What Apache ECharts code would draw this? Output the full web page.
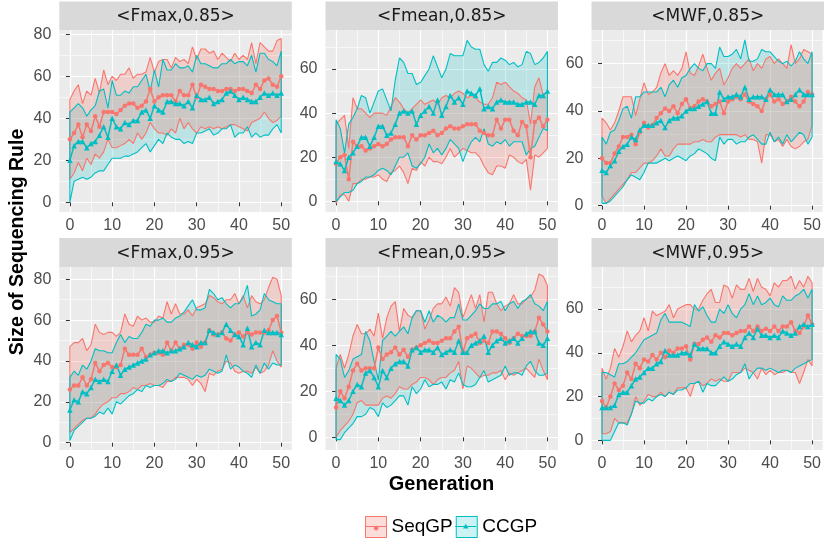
<!DOCTYPE html>
<html><head><meta charset="utf-8">
<script src="https://cdn.jsdelivr.net/npm/echarts@6/dist/echarts.min.js"></script>
<style>html,body{margin:0;padding:0;background:#fff}#c{width:824px;height:538px}</style>
</head><body><div id="c"></div>
<script>
// ---------- data ----------
const generations = [0,1,2,3,4,5,6,7,8,9,10,11,12,13,14,15,16,17,18,19,20,21,22,23,24,25,26,27,28,29,30,31,32,33,34,35,36,37,38,39,40,41,42,43,44,45,46,47,48,49,50];
const xTicks = [0,10,20,30,40,50];
const xMinorTicks = [5,15,25,35,45];
const yTicks = [0,20,40,60,80];
const yMinorTicks = [10,30,50,70];
const panelTitles = ['<Fmax,0.85>','<Fmean,0.85>','<MWF,0.85>','<Fmax,0.95>','<Fmean,0.95>','<MWF,0.95>'];
const seriesNames = ['SeqGP','CCGP'];

// <Fmax,0.85>
const p1_seq_mean = [30,33,37,31,37,34,41,36,43,43, 43,42,44,46,47,47,45,46,48,54, 48,50,51,51,51,48,53,51,51,56, 50,56,55,54,54,53,53,54,54,53, 54,54,53,52,56,54,58,59,56,55, 60];
const p1_seq_hi   = [49,53,56,47,53,51,59,52,63,56, 60,58,61,61,64,59,61,61,62,69, 62,67,68,68,64,69,67,68,66,74, 68,73,73,71,72,68,71,69,67,71, 68,70,68,76,66,76,74,72,72,77, 78];
const p1_seq_lo   = [11,14,19,15,21,18,23,21,24,30, 26,26,27,28,30,28,33,30,33,38, 35,33,33,32,35,33,40,35,38,35, 33,36,35,36,35,36,35,36,37,37, 36,35,34,38,39,40,43,40,38,39, 41];
const p1_cc_mean  = [20,27,29,29,26,28,29,32,36,31, 40,36,35,38,37,39,39,43,44,40, 46,44,43,48,48,47,47,46,48,45, 51,49,49,50,47,48,49,52,53,51, 49,50,49,48,48,50,52,51,52,51, 52];
const p1_cc_hi    = [43,45,47,45,41,44,46,53,54,45, 58,51,51,53,52,55,55,58,61,53, 63,55,68,63,63,66,64,64,65,62, 70,66,66,65,64,64,66,66,68,66, 67,67,65,70,62,71,71,68,67,65, 72];
const p1_cc_lo    = [0,10,11,12,11,12,14,15,15,18, 21,21,21,22,22,23,24,26,28,24, 27,30,28,33,31,30,30,28,29,28, 33,33,34,35,32,33,35,35,37,31, 33,33,36,31,33,31,32,32,35,37, 33];

// <Fmean,0.85>
const p2_seq_mean = [17,20,21,10,27,25,25,23,24,25, 26,25,26,28,29,29,29,25,30,28, 30,30,31,32,30,31,33,34,33,33, 34,35,35,35,32,31,30,30,37,33, 37,37,32,30,36,34,20,36,38,34, 37];
const p2_seq_hi   = [35,37,39,24,47,42,42,40,38,40, 40,40,39,43,47,45,42,40,42,44, 46,44,45,46,44,47,48,47,49,50, 49,47,48,47,45,44,44,47,54,53, 54,52,50,49,47,46,35,52,56,48, 50];
const p2_seq_lo   = [-1,3,3,0,8,8,10,10,11,11, 12,10,9,13,14,16,13,8,15,14, 18,16,20,18,18,17,20,24,20,22, 24,23,22,22,20,16,13,12,16,16, 15,21,20,18,17,19,5,21,20,22, 24];
const p2_cc_mean  = [18,17,14,20,22,25,29,29,25,29, 34,34,30,31,35,40,41,40,41,35, 39,41,43,40,46,39,43,48,45,47, 44,50,49,48,51,42,43,42,45,46, 45,45,45,44,44,45,45,44,48,48, 50];
const p2_cc_hi    = [37,33,22,35,38,42,48,47,40,45, 50,51,46,41,55,65,63,58,58,53, 54,57,60,66,61,56,60,67,66,66, 66,73,70,69,69,62,59,63,63,65, 64,62,63,61,62,68,67,62,63,65, 68];
const p2_cc_lo    = [0,2,4,4,5,8,9,11,11,12, 14,15,14,12,16,20,20,22,16,15, 17,20,26,22,24,21,24,28,26,24, 18,23,27,29,27,33,26,25,27,26, 28,25,27,27,27,21,24,25,29,33, 32];

// <MWF,0.85>
const p3_seq_mean = [20,18,18,22,25,29,29,30,26,31, 35,33,34,37,39,41,40,42,39,43, 45,41,42,44,45,44,42,43,44,39, 44,45,46,45,47,44,43,42,40,45, 47,44,45,43,44,46,44,42,44,48, 47];
const p3_seq_hi   = [37,35,32,35,40,46,46,46,38,45, 52,47,48,50,56,60,55,57,55,58, 65,56,55,59,64,58,53,56,58,51, 54,58,60,58,60,62,57,60,58,62, 63,60,62,60,58,68,60,62,66,65, 64];
const p3_seq_lo   = [4,1,3,5,7,9,11,14,14,16, 18,18,19,21,24,21,21,24,26,26, 26,26,27,27,28,27,27,29,30,30, 30,30,30,29,30,28,28,27,18,30, 30,27,28,25,28,25,24,25,27,28, 34];
const p3_cc_mean  = [15,14,17,19,23,25,26,29,28,32, 34,34,34,35,36,33,36,37,37,38, 40,41,41,42,43,44,39,39,48,45, 46,46,47,46,50,45,46,46,46,45, 49,47,47,47,44,45,47,49,47,47, 47];
const p3_cc_hi    = [29,26,31,32,36,41,42,37,46,46, 48,48,48,48,50,46,51,53,50,54, 55,58,60,58,57,60,60,58,67,63, 63,64,66,62,70,61,61,62,66,65, 65,63,61,60,61,59,61,65,62,60, 65];
const p3_cc_lo    = [1,1,2,4,6,8,11,13,12,11, 14,18,18,18,19,20,19,20,21,20, 19,21,22,24,23,22,20,19,29,26, 28,28,26,27,27,29,30,28,26,26, 31,27,29,26,30,27,29,31,30,26, 29];

// <Fmax,0.95>
const p4_seq_mean = [26,28,28,32,28,31,39,35,38,39, 37,37,38,46,43,43,43,46,42,43, 44,44,43,49,45,49,46,48,48,46, 49,47,49,55,53,53,54,51,50,53, 54,52,54,53,54,54,54,55,60,62, 54];
const p4_seq_hi   = [47,49,49,51,45,48,58,54,53,54, 54,52,54,63,58,57,62,60,61,59, 59,62,61,69,63,68,63,63,65,62, 66,67,68,72,71,69,68,70,70,73, 68,72,66,72,69,68,70,76,81,80, 72];
const p4_seq_lo   = [5,7,9,11,12,12,14,17,19,20, 22,22,24,24,25,27,26,28,28,29, 28,28,27,30,30,32,32,32,31,28, 31,29,25,34,33,35,36,40,39,35, 34,35,35,34,37,34,35,38,45,40, 37];
const p4_cc_mean  = [16,21,20,25,24,27,31,30,31,30, 35,38,33,36,37,38,39,40,41,43, 44,45,45,44,45,45,46,47,49,48, 47,49,49,55,54,53,54,58,55,53, 52,48,56,47,49,48,55,54,54,54, 53];
const p4_cc_hi    = [32,35,33,38,36,40,46,45,45,44, 44,49,53,49,52,51,51,54,58,57, 60,60,61,59,59,61,62,64,67,70, 65,65,66,75,73,70,71,68,66,68, 68,71,77,62,63,65,73,70,69,68, 68];
const p4_cc_lo    = [1,6,8,10,12,12,13,15,14,17, 14,20,19,21,23,24,26,25,28,27, 28,28,29,31,30,31,34,33,32,31, 33,32,33,36,35,34,35,43,36,38, 37,35,34,32,38,34,39,36,39,38, 38];

// <Fmean,0.95>
const p5_seq_mean = [13,20,17,22,29,32,29,30,30,30, 39,34,36,37,39,36,38,35,38,39, 40,41,42,41,41,42,43,43,46,48, 37,43,44,45,41,42,41,46,46,45, 43,41,43,45,44,44,44,46,52,49, 46];
const p5_seq_hi   = [30,36,30,36,44,49,45,45,47,44, 54,43,52,57,59,46,56,53,52,55, 55,47,51,56,58,58,61,57,65,63, 52,57,62,56,62,50,63,63,58,55, 57,58,62,58,58,60,61,64,71,70, 66];
const p5_seq_lo   = [0,3,5,7,10,15,16,14,14,14, 14,17,18,17,19,22,21,21,23,24, 26,26,25,23,25,26,26,28,29,33, 21,31,30,28,26,27,27,28,28,29, 25,28,27,28,29,30,28,26,34,29, 25];
const p5_cc_mean  = [17,16,14,16,20,23,22,28,29,26, 22,29,26,30,32,33,33,31,38,39, 37,38,38,37,39,36,37,38,37,42, 37,37,40,41,42,44,37,40,42,43, 41,42,43,41,43,45,46,46,41,40, 43];
const p5_cc_hi    = [36,34,26,29,34,35,36,46,42,33, 25,42,44,46,44,46,48,45,52,55, 55,50,55,50,53,52,50,52,52,58, 51,51,53,55,58,56,56,58,58,59, 55,58,59,56,59,60,62,58,57,55, 59];
const p5_cc_lo    = [-1,-1,2,4,6,9,9,10,13,12, 9,15,13,14,16,18,18,14,22,19, 21,25,22,23,23,24,21,25,24,28, 23,22,22,23,26,29,24,25,26,27, 31,27,28,28,27,31,33,29,27,27, 28];

// <MWF,0.95>
const p6_seq_mean = [18,15,20,26,23,25,31,28,35,33, 37,36,39,37,40,38,41,40,42,42, 43,37,44,44,46,47,45,48,47,49, 49,48,49,50,50,52,50,52,50,51, 50,52,50,52,52,54,50,49,52,57, 53];
const p6_seq_hi   = [33,28,33,42,38,43,50,45,48,50, 56,50,59,57,58,59,62,56,60,61, 62,62,60,60,64,67,69,63,63,71, 70,65,71,69,69,74,68,74,70,69, 66,72,70,73,73,75,69,73,70,75, 72];
const p6_seq_lo   = [3,3,4,10,8,8,8,12,20,16, 18,21,20,20,22,20,22,21,24,24, 24,20,26,27,25,26,28,27,28,27, 27,31,31,31,33,32,31,28,33,30, 32,30,31,31,32,31,31,26,31,37, 34];
const p6_cc_mean  = [15,15,15,16,21,22,22,25,28,29, 31,33,33,35,36,41,39,39,39,40, 40,39,44,42,42,42,40,40,43,45, 44,43,44,43,47,49,47,51,48,48, 47,48,47,50,49,48,49,52,53,52, 53];
const p6_cc_hi    = [31,31,30,29,35,35,36,38,40,43, 46,47,48,49,55,58,54,54,54,54, 53,52,62,59,61,57,54,54,60,58, 62,58,56,60,62,67,62,66,62,63, 65,62,61,66,64,64,66,67,69,65, 69];
const p6_cc_lo    = [0,0,0,4,8,8,7,12,18,17, 17,19,18,20,21,20,22,21,23,23, 24,26,26,27,22,26,25,25,27,29, 27,28,30,31,35,28,31,33,33,32, 33,32,31,32,32,31,33,34,35,36, 37];

// ---------- layout / style ----------
const RED = '#F8766D', TEAL = '#00BFC4';
const RED_FILL = 'rgba(248,118,109,0.25)', TEAL_FILL = 'rgba(0,191,196,0.2)';
const FONT = '"Liberation Sans", Arial, sans-serif';
const PW = 232.5;
const panels = [
  {title:panelTitles[0], seq:[p1_seq_mean,p1_seq_lo,p1_seq_hi], cc:[p1_cc_mean,p1_cc_lo,p1_cc_hi], left:59.3,  top:30,  height:182, yMin:-4.6,  yMax:82.05},
  {title:panelTitles[1], seq:[p2_seq_mean,p2_seq_lo,p2_seq_hi], cc:[p2_cc_mean,p2_cc_lo,p2_cc_hi], left:325.5, top:30,  height:182, yMin:-4.85, yMax:77.7},
  {title:panelTitles[2], seq:[p3_seq_mean,p3_seq_lo,p3_seq_hi], cc:[p3_cc_mean,p3_cc_lo,p3_cc_hi], left:591.5, top:30,  height:182, yMin:-2.66, yMax:74.2},
  {title:panelTitles[3], seq:[p4_seq_mean,p4_seq_lo,p4_seq_hi], cc:[p4_cc_mean,p4_cc_lo,p4_cc_hi], left:59.3,  top:267, height:183, yMin:-3.57, yMax:86.0},
  {title:panelTitles[4], seq:[p5_seq_mean,p5_seq_lo,p5_seq_hi], cc:[p5_cc_mean,p5_cc_lo,p5_cc_hi], left:325.5, top:267, height:183, yMin:-5.5,  yMax:74.0},
  {title:panelTitles[5], seq:[p6_seq_mean,p6_seq_lo,p6_seq_hi], cc:[p6_cc_mean,p6_cc_lo,p6_cc_hi], left:591.5, top:267, height:183, yMin:-4.4,  yMax:79.2}
];

function pairs(arr){ return generations.map((g,k)=>[g, arr[k]]); }
function outline(hi,lo){
  const pts = [[generations[0], lo[0]]];
  generations.forEach((g,k)=>pts.push([g, hi[k]]));
  for (let k = generations.length-1; k >= 0; k--) pts.push([generations[k], lo[k]]);
  return pts;
}
// ribbon polygon drawn through the grid's own coordinate system
function ribbonRenderer(hi, lo, fill){
  return function(params, api){
    if (params.dataIndex !== 0) return null;
    const poly = outline(hi, lo).map(pt => api.coord(pt));
    return {type:'polygon', shape:{points:poly}, style:{fill:fill, stroke:null}, silent:true};
  };
}

const grids=[], xAxes=[], yAxes=[], series=[], graphics=[];
panels.forEach((p,i)=>{
  grids.push({left:p.left, top:p.top, width:PW, height:p.height, show:true, backgroundColor:'#EBEBEB', borderWidth:0});
  const within = v => v >= p.yMin && v <= p.yMax;
  const yt = yTicks.filter(within), ym = yMinorTicks.filter(within);
  xAxes.push({type:'value', gridIndex:i, min:-2.5, max:52.5, position:'bottom',
    axisLine:{show:false},
    axisTick:{show:true, customValues:xTicks, length:4, lineStyle:{color:'#333333', width:1}},
    axisLabel:{customValues:xTicks, color:'#4D4D4D', fontSize:16, fontFamily:FONT, margin:6},
    splitLine:{show:true, lineStyle:{color:'#FFFFFF', width:1.2}}});
  xAxes.push({type:'value', gridIndex:i, min:-2.5, max:52.5, position:'top',
    axisLine:{show:false}, axisTick:{show:false, customValues:xMinorTicks}, axisLabel:{show:false, customValues:xMinorTicks},
    splitLine:{show:true, lineStyle:{color:'#FFFFFF', width:0.6}}});
  yAxes.push({type:'value', gridIndex:i, min:p.yMin, max:p.yMax, position:'left',
    axisLine:{show:false},
    axisTick:{show:true, customValues:yt, length:4, lineStyle:{color:'#333333', width:1}},
    axisLabel:{customValues:yt, color:'#4D4D4D', fontSize:16, fontFamily:FONT, margin:8},
    splitLine:{show:true, lineStyle:{color:'#FFFFFF', width:1.2}}});
  yAxes.push({type:'value', gridIndex:i, min:p.yMin, max:p.yMax, position:'right',
    axisLine:{show:false}, axisTick:{show:false, customValues:ym}, axisLabel:{show:false, customValues:ym},
    splitLine:{show:true, lineStyle:{color:'#FFFFFF', width:0.6}}});
  const xi = 2*i, yi = 2*i;
  const base = {xAxisIndex:xi, yAxisIndex:yi, animation:false};
  // ribbon fills
  [[p.cc, 'CCGP', TEAL_FILL], [p.seq, 'SeqGP', RED_FILL]].forEach(([d,name,fill])=>{
    series.push(Object.assign({}, base, {type:'custom', name, silent:true, z:2, clip:true,
      data: generations.map((g,k)=>[g, d[1][k], d[2][k]]),
      encode:{x:0, y:[1,2]},
      renderItem: ribbonRenderer(d[2], d[1], fill)}));
  });
  // ribbon outlines
  [[p.seq,'SeqGP',RED],[p.cc,'CCGP',TEAL]].forEach(([d,name,col])=>{
    series.push(Object.assign({}, base, {type:'line', name, data:outline(d[2], d[1]), symbol:'none', silent:true,
      lineStyle:{color:col, width:1.1}, z:3}));
  });
  // means
  series.push(Object.assign({}, base, {type:'line', name:'SeqGP', data:pairs(p.seq[0]), symbol:'circle', symbolSize:4.5, showSymbol:true,
    itemStyle:{color:RED}, lineStyle:{color:RED, width:1.5}, z:4}));
  series.push(Object.assign({}, base, {type:'line', name:'CCGP', data:pairs(p.cc[0]), symbol:'triangle', symbolSize:5.5, showSymbol:true,
    itemStyle:{color:TEAL}, lineStyle:{color:TEAL, width:1.5}, z:4}));
  // strip
  const sy = i < 3 ? 1.5 : 238, sh = i < 3 ? 28.5 : 29;
  graphics.push({type:'rect', silent:true, shape:{x:p.left, y:sy, width:PW, height:sh}, style:{fill:'#D9D9D9'}});
  graphics.push({type:'text', silent:true, x:p.left + PW/2, y:sy + sh/2 + 1,
    style:{text:p.title, fill:'#1A1A1A', fontSize:17, fontFamily:'"DejaVu Sans", sans-serif', align:'center', verticalAlign:'middle'}});
});

graphics.push({type:'text', silent:true, x:18, y:242, rotation:Math.PI/2,
  style:{text:'Size of Sequencing Rule', fill:'#000', fontSize:19.5, fontWeight:'bold', fontFamily:FONT, align:'center', verticalAlign:'middle'}});
graphics.push({type:'text', silent:true, x:441.5, y:484,
  style:{text:'Generation', fill:'#000', fontSize:20, fontWeight:'bold', fontFamily:FONT, align:'center', verticalAlign:'middle'}});

const corners = 'M0,0 L0.01,0 L0,0.01 Z M20,20 L19.99,20 L20,19.99 Z ';
const dotIcon = 'path://' + corners + 'M0,9.5 L20,9.5 L20,10.5 L0,10.5 Z M12.2,10 A2.2,2.2 0 1 1 12.19,9.99 Z';
const triIcon = 'path://' + corners + 'M0,9.5 L20,9.5 L20,10.5 L0,10.5 Z M10,7.3 L12.6,12 L7.4,12 Z';
const legendCommon = {left:360, top:511, itemWidth:21, itemHeight:21, itemGap:3, orient:'horizontal',
  textStyle:{fontSize:19, fontFamily:FONT, color:'#000'}, selectedMode:false};

const option = {
  animation:false,
  grid:grids, xAxis:xAxes, yAxis:yAxes, series:series, graphic:graphics,
  legend:[
    Object.assign({}, legendCommon, {data:[
      {name:seriesNames[0], icon:'rect', itemStyle:{color:RED_FILL, borderColor:RED, borderWidth:1}},
      {name:seriesNames[1], icon:'rect', itemStyle:{color:TEAL_FILL, borderColor:TEAL, borderWidth:1}}]}),
    Object.assign({}, legendCommon, {textStyle:{fontSize:19, fontFamily:FONT, color:'rgba(0,0,0,0)'}, data:[
      {name:seriesNames[0], icon:dotIcon, itemStyle:{color:RED, borderWidth:0}},
      {name:seriesNames[1], icon:triIcon, itemStyle:{color:TEAL, borderWidth:0}}]})
  ]
};
const chart = echarts.init(document.getElementById('c'), null, {renderer:'canvas', width:824, height:538});
chart.setOption(option);
</script>
</body></html>
